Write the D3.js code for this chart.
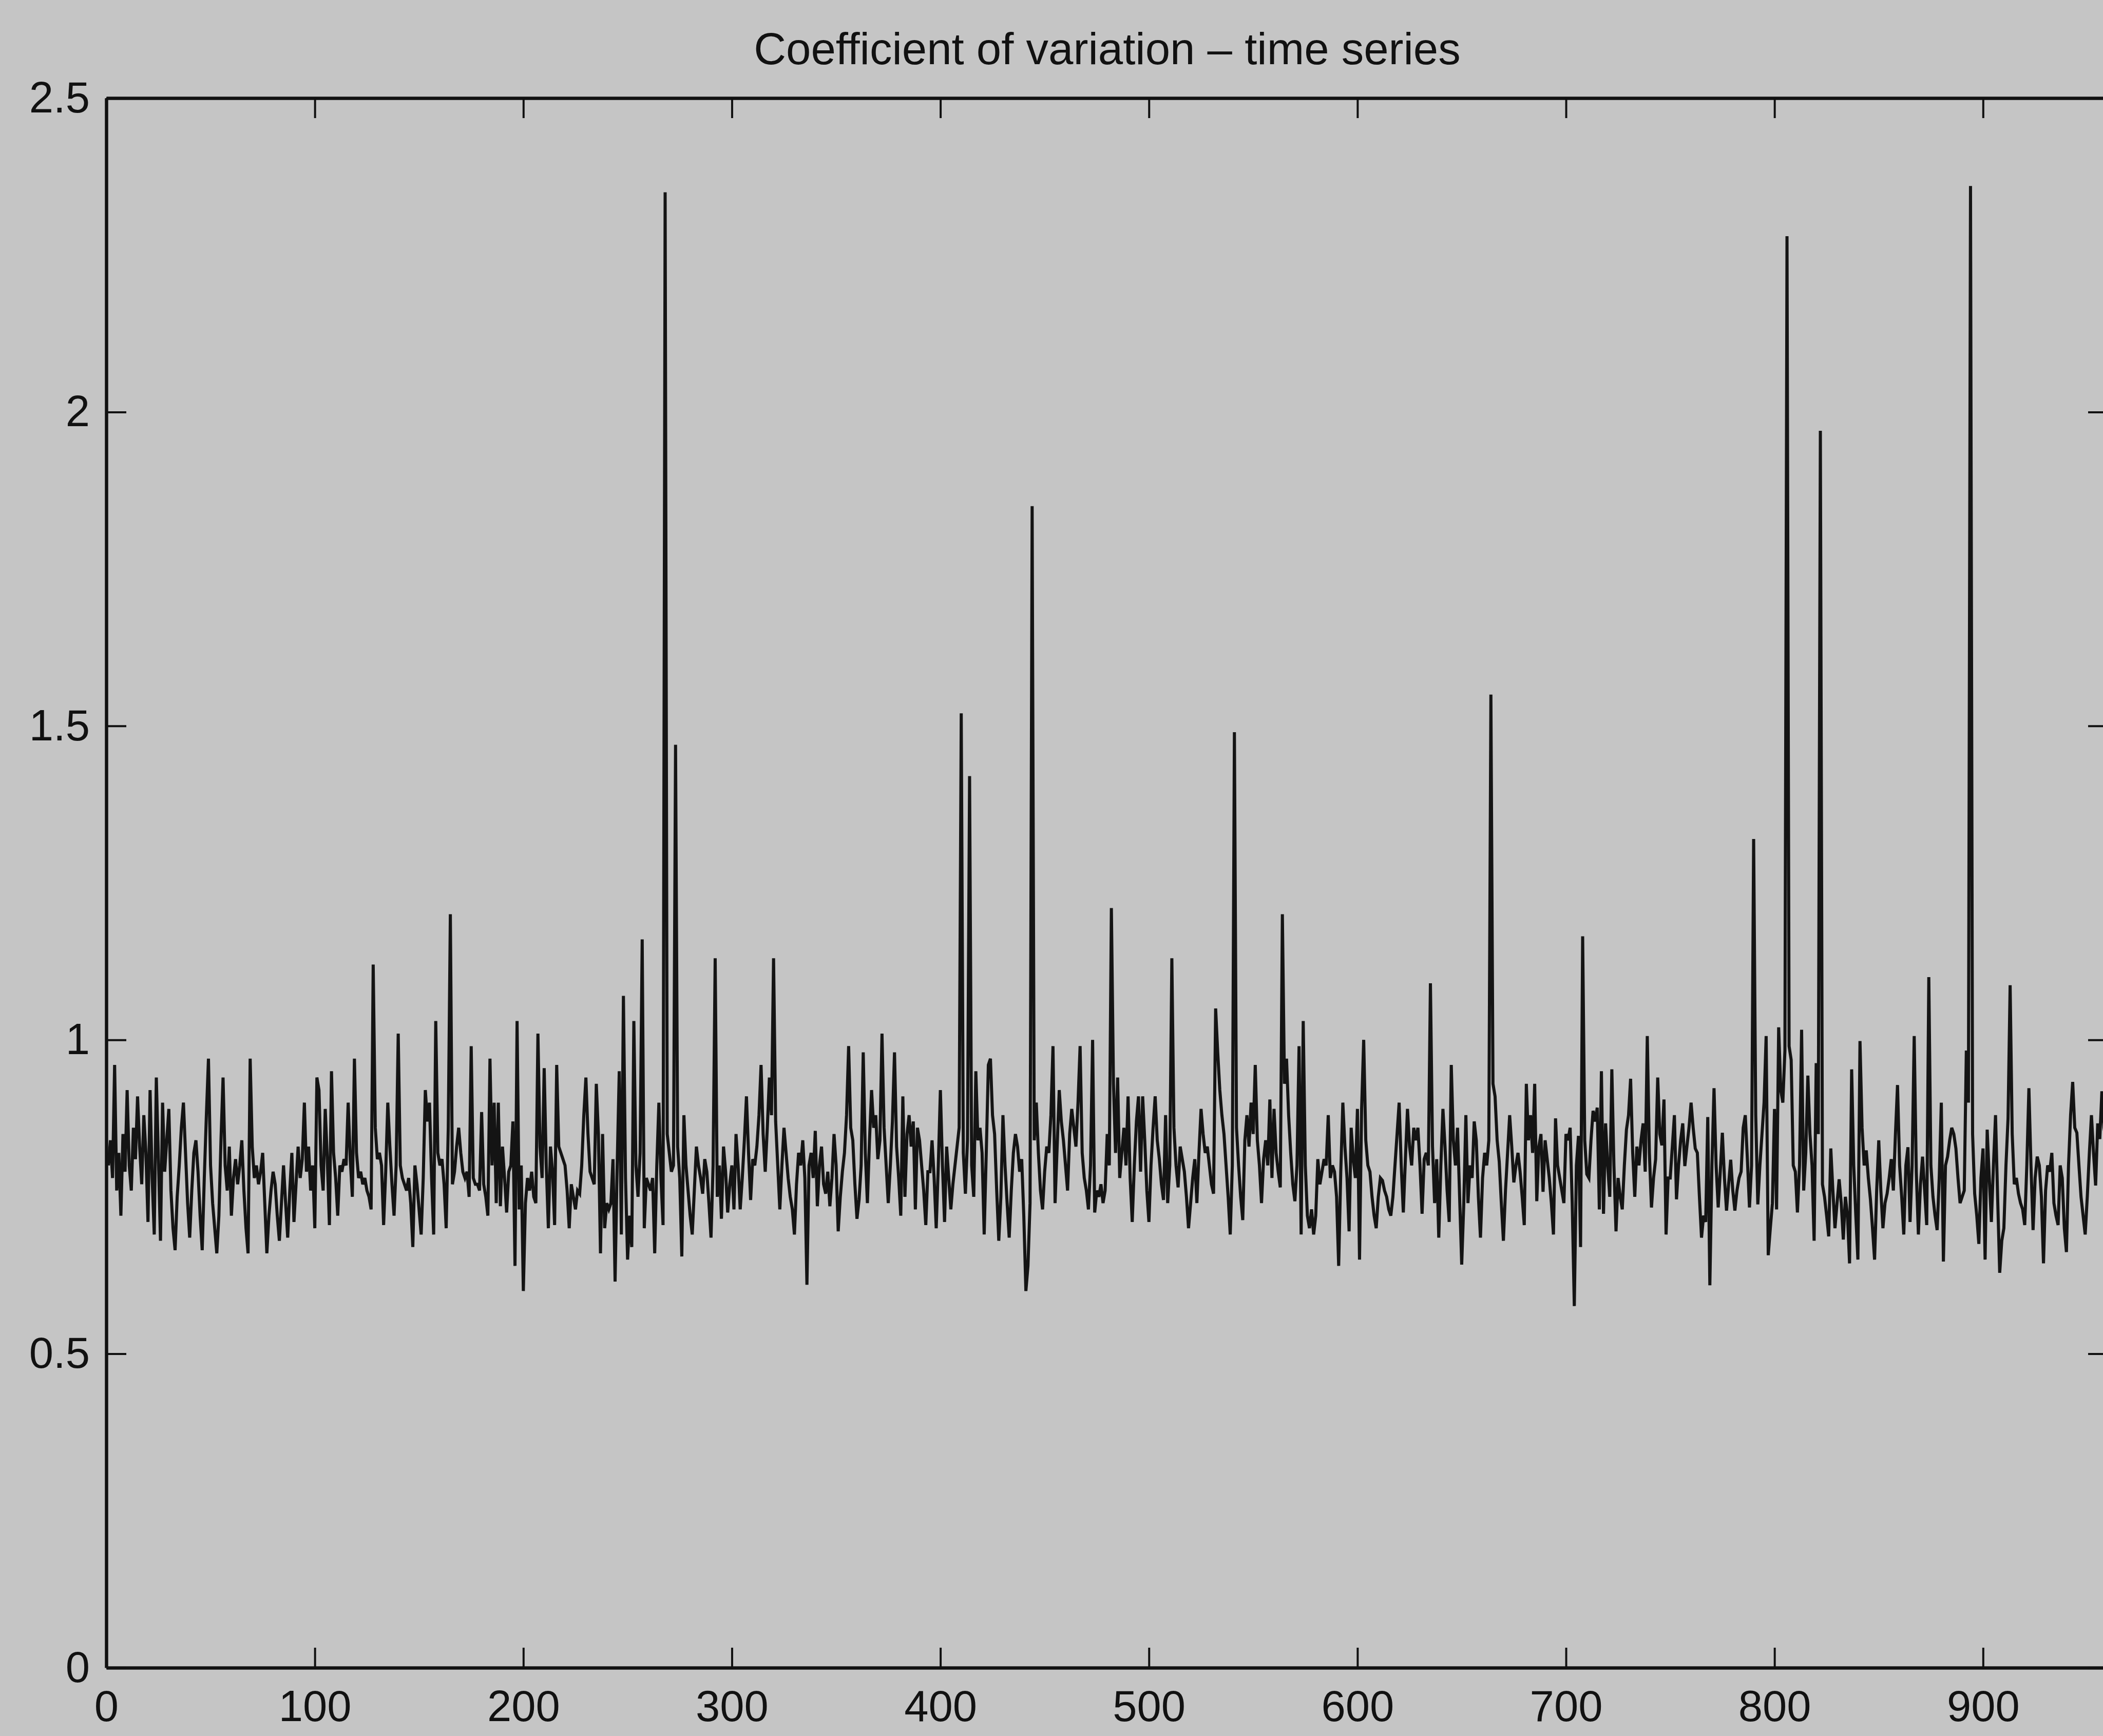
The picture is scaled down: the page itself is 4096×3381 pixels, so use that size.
<!DOCTYPE html>
<html>
<head>
<meta charset="utf-8">
<script src="https://cdn.jsdelivr.net/npm/d3@7"></script>
<style>
  html, body { margin: 0; padding: 0; background: #c5c5c5; }
  svg { display: block; }
  .axis text { font-family: "Liberation Sans", Arial, Helvetica, sans-serif; font-size: 85px; fill: #111; }
  .axis path { stroke: #111; stroke-width: 6.5; }
  .axis line { stroke: #111; stroke-width: 4; }
</style>
</head>
<body>
<script>
// coefficient of variation, one value per sample
var cvValues = [
  0.80,0.84,0.78,0.96,0.76,0.82,0.72,0.85,0.79,0.92,0.80,0.76,0.86,0.81,0.91,0.83,0.77,0.88,0.82,0.71,
  0.92,0.78,0.69,0.94,0.81,0.68,0.90,0.79,0.84,0.89,0.76,0.70,0.665,0.75,0.80,0.86,0.90,0.82,0.74,0.685,
  0.76,0.82,0.84,0.79,0.72,0.665,0.78,0.88,0.97,0.80,0.74,0.70,0.66,0.72,0.84,0.94,0.80,0.76,0.83,0.72,
  0.78,0.81,0.77,0.80,0.84,0.76,0.70,0.66,0.97,0.83,0.78,0.80,0.77,0.79,0.82,0.74,0.66,0.72,0.76,0.79,
  0.77,0.72,0.68,0.74,0.80,0.74,0.685,0.76,0.82,0.71,0.77,0.83,0.78,0.81,0.90,0.79,0.83,0.76,0.80,0.70,
  0.94,0.92,0.80,0.76,0.89,0.81,0.705,0.95,0.82,0.78,0.72,0.80,0.79,0.81,0.80,0.90,0.81,0.75,0.97,0.82,
  0.78,0.79,0.77,0.78,0.76,0.75,0.73,1.12,0.86,0.81,0.82,0.80,0.705,0.79,0.90,0.83,0.77,0.72,0.80,1.01,
  0.80,0.78,0.77,0.76,0.78,0.74,0.67,0.80,0.77,0.73,0.69,0.78,0.92,0.87,0.90,0.78,0.69,1.03,0.82,0.80,
  0.81,0.77,0.70,0.86,1.20,0.77,0.79,0.83,0.86,0.82,0.79,0.78,0.79,0.75,0.99,0.78,0.77,0.77,0.76,0.885,
  0.77,0.75,0.72,0.97,0.80,0.90,0.74,0.90,0.735,0.83,0.78,0.725,0.79,0.80,0.87,0.64,1.03,0.73,0.80,0.60,
  0.74,0.78,0.76,0.79,0.75,0.74,1.01,0.83,0.78,0.955,0.80,0.70,0.83,0.79,0.705,0.96,0.83,0.82,0.81,0.80,
  0.76,0.70,0.77,0.75,0.73,0.76,0.755,0.80,0.88,0.94,0.85,0.79,0.78,0.77,0.93,0.85,0.66,0.85,0.70,0.74,
  0.73,0.74,0.81,0.615,0.80,0.95,0.69,1.07,0.78,0.65,0.72,0.67,1.03,0.80,0.75,0.82,1.16,0.70,0.78,0.77,
  0.76,0.78,0.66,0.80,0.90,0.78,0.705,2.35,0.85,0.82,0.79,0.80,1.47,0.83,0.78,0.655,0.88,0.80,0.76,0.72,
  0.69,0.76,0.83,0.80,0.78,0.755,0.81,0.79,0.74,0.685,0.80,1.13,0.75,0.80,0.715,0.83,0.79,0.725,0.77,0.80,
  0.73,0.85,0.80,0.73,0.78,0.84,0.91,0.82,0.745,0.81,0.80,0.83,0.88,0.96,0.85,0.79,0.86,0.94,0.88,1.13,
  0.87,0.80,0.73,0.80,0.86,0.82,0.78,0.75,0.73,0.69,0.77,0.82,0.80,0.84,0.78,0.61,0.80,0.82,0.78,0.855,
  0.735,0.80,0.83,0.77,0.755,0.79,0.735,0.78,0.85,0.80,0.695,0.75,0.79,0.82,0.88,0.99,0.86,0.84,0.77,0.715,
  0.745,0.80,0.98,0.82,0.74,0.84,0.92,0.86,0.88,0.81,0.84,1.01,0.86,0.80,0.74,0.80,0.87,0.98,0.83,0.78,
  0.72,0.91,0.75,0.85,0.88,0.83,0.87,0.73,0.86,0.84,0.80,0.76,0.705,0.79,0.79,0.84,0.78,0.70,0.80,0.92,
  0.80,0.71,0.83,0.78,0.73,0.77,0.80,0.83,0.86,1.52,0.82,0.755,0.84,1.42,0.80,0.75,0.95,0.84,0.86,0.82,
  0.69,0.82,0.96,0.97,0.88,0.85,0.76,0.68,0.75,0.88,0.80,0.74,0.685,0.76,0.82,0.85,0.83,0.79,0.81,0.72,
  0.60,0.64,0.74,1.85,0.84,0.90,0.82,0.76,0.73,0.79,0.83,0.82,0.88,0.99,0.74,0.83,0.92,0.87,0.84,0.80,
  0.76,0.85,0.89,0.86,0.83,0.90,0.99,0.82,0.78,0.76,0.73,0.80,1.00,0.725,0.76,0.75,0.77,0.74,0.76,0.85,
  0.80,1.21,0.93,0.82,0.94,0.78,0.82,0.86,0.80,0.91,0.78,0.71,0.80,0.87,0.91,0.79,0.91,0.84,0.76,0.71,
  0.80,0.86,0.91,0.84,0.81,0.77,0.745,0.88,0.74,0.80,1.13,0.86,0.80,0.765,0.83,0.81,0.79,0.75,0.70,0.74,
  0.78,0.81,0.74,0.82,0.89,0.85,0.82,0.83,0.80,0.77,0.755,1.05,0.98,0.92,0.88,0.85,0.80,0.75,0.69,0.80,
  1.49,0.86,0.80,0.75,0.713,0.84,0.88,0.83,0.90,0.85,0.96,0.84,0.80,0.74,0.81,0.84,0.80,0.905,0.78,0.89,
  0.82,0.79,0.765,1.20,0.93,0.97,0.88,0.82,0.77,0.743,0.80,0.99,0.69,1.03,0.80,0.72,0.70,0.73,0.69,0.72,
  0.81,0.77,0.79,0.81,0.80,0.88,0.78,0.80,0.79,0.75,0.64,0.79,0.90,0.83,0.78,0.695,0.86,0.81,0.78,0.89,
  0.65,0.89,1.00,0.84,0.80,0.79,0.75,0.72,0.70,0.75,0.78,0.776,0.76,0.75,0.73,0.72,0.75,0.80,0.85,0.90,
  0.80,0.725,0.81,0.89,0.83,0.80,0.86,0.84,0.86,0.80,0.723,0.81,0.82,0.80,1.09,0.83,0.74,0.81,0.685,0.80,
  0.89,0.83,0.76,0.71,0.96,0.84,0.80,0.86,0.75,0.642,0.74,0.88,0.74,0.80,0.78,0.87,0.84,0.75,0.685,0.78,
  0.82,0.80,0.84,1.55,0.93,0.91,0.84,0.806,0.74,0.68,0.76,0.82,0.88,0.83,0.773,0.80,0.82,0.79,0.75,0.705,
  0.93,0.84,0.88,0.82,0.93,0.743,0.83,0.85,0.758,0.84,0.81,0.78,0.74,0.69,0.875,0.80,0.78,0.76,0.74,0.85,
  0.84,0.86,0.74,0.576,0.80,0.847,0.67,1.165,0.84,0.786,0.78,0.84,0.887,0.87,0.892,0.73,0.95,0.723,0.867,0.80,
  0.75,0.953,0.80,0.695,0.78,0.75,0.73,0.80,0.857,0.88,0.938,0.82,0.75,0.83,0.80,0.84,0.867,0.79,1.006,0.82,
  0.733,0.78,0.81,0.94,0.85,0.832,0.905,0.69,0.78,0.78,0.83,0.88,0.746,0.80,0.84,0.867,0.799,0.83,0.86,0.90,
  0.86,0.827,0.82,0.75,0.685,0.72,0.71,0.877,0.609,0.80,0.923,0.80,0.733,0.79,0.852,0.78,0.728,0.77,0.809,0.76,
  0.728,0.76,0.78,0.79,0.86,0.88,0.81,0.733,0.80,1.32,0.88,0.738,0.80,0.85,0.90,1.006,0.657,0.70,0.74,0.89,
  0.73,1.02,0.92,0.90,0.983,2.28,0.99,0.968,0.80,0.79,0.725,0.80,1.016,0.76,0.82,0.943,0.85,0.80,0.68,0.963,
  0.85,1.97,0.77,0.75,0.72,0.687,0.827,0.76,0.70,0.74,0.778,0.74,0.682,0.75,0.72,0.644,0.953,0.80,0.72,0.65,
  0.998,0.86,0.80,0.824,0.78,0.746,0.70,0.65,0.76,0.84,0.76,0.70,0.74,0.755,0.78,0.81,0.76,0.85,0.928,0.80,
  0.75,0.69,0.80,0.829,0.71,0.80,1.006,0.79,0.69,0.77,0.814,0.76,0.705,1.10,0.80,0.75,0.72,0.697,0.78,0.90,
  0.647,0.80,0.814,0.84,0.86,0.85,0.827,0.78,0.74,0.75,0.76,0.983,0.90,2.36,0.85,0.755,0.72,0.675,0.78,0.827,
  0.65,0.857,0.78,0.71,0.80,0.88,0.75,0.629,0.68,0.70,0.80,0.875,1.087,0.85,0.77,0.78,0.755,0.74,0.73,0.705,
  0.80,0.923,0.80,0.697,0.78,0.814,0.80,0.75,0.644,0.76,0.80,0.79,0.82,0.74,0.72,0.705,0.80,0.78,0.70,0.662,
  0.80,0.88,0.933,0.86,0.852,0.80,0.75,0.72,0.69,0.75,0.82,0.88,0.82,0.768,0.867,0.842,0.918,0.86,0.84,0.82
];

var xTicks = [0, 100, 200, 300, 400, 500, 600, 700, 800, 900];
var yTicks = [0, 0.5, 1, 1.5, 2, 2.5];
var xLimits = [0, 960];
var yLimits = [0, 2.5];
var titleText = 'Coefficient of variation \u2013 time series';

var margin = {top: 191, right: -10, bottom: 133, left: 207},
    width = 4096 - margin.left - margin.right,
    height = 3381 - margin.top - margin.bottom;

var tickLen = 39;

var svg = d3.select('body').append('svg')
    .attr('width', 4096)
    .attr('height', 3381)
  .append('g')
    .attr('transform', 'translate(' + margin.left + ',' + margin.top + ')');

var x = d3.scaleLinear().domain(xLimits).range([0, width]);
var y = d3.scaleLinear().domain(yLimits).range([height, 0]);

var fmt = function(d) { return String(d); };

// bottom + left carry the labels, top + right are mirror ticks only
svg.append('g')
    .attr('class', 'axis')
    .attr('transform', 'translate(0,' + height + ')')
    .call(d3.axisBottom(x).tickValues(xTicks).tickFormat(fmt)
      .tickSizeInner(-tickLen).tickSizeOuter(0).tickPadding(44));

svg.append('g')
    .attr('class', 'axis')
    .call(d3.axisTop(x).tickValues(xTicks).tickFormat('')
      .tickSizeInner(-tickLen).tickSizeOuter(0));

svg.append('g')
    .attr('class', 'axis')
    .call(d3.axisLeft(y).tickValues(yTicks).tickFormat(fmt)
      .tickSizeInner(-tickLen).tickSizeOuter(0).tickPadding(32));

svg.append('g')
    .attr('class', 'axis')
    .attr('transform', 'translate(' + width + ',0)')
    .call(d3.axisRight(y).tickValues(yTicks).tickFormat('')
      .tickSizeInner(-tickLen).tickSizeOuter(0));

var line = d3.line()
    .x(function(d, i) { return x(i + 1); })
    .y(function(d) { return y(d); });

svg.append('path')
    .datum(cvValues)
    .attr('fill', 'none')
    .attr('stroke', '#141414')
    .attr('stroke-width', 6)
    .attr('stroke-linejoin', 'miter')
    .attr('d', line);

svg.append('text')
    .attr('x', width / 2)
    .attr('y', -66)
    .attr('text-anchor', 'middle')
    .style('font-family', '"Liberation Sans", Arial, Helvetica, sans-serif')
    .style('font-size', '87px')
    .style('fill', '#111')
    .text(titleText);
</script>
</body>
</html>
